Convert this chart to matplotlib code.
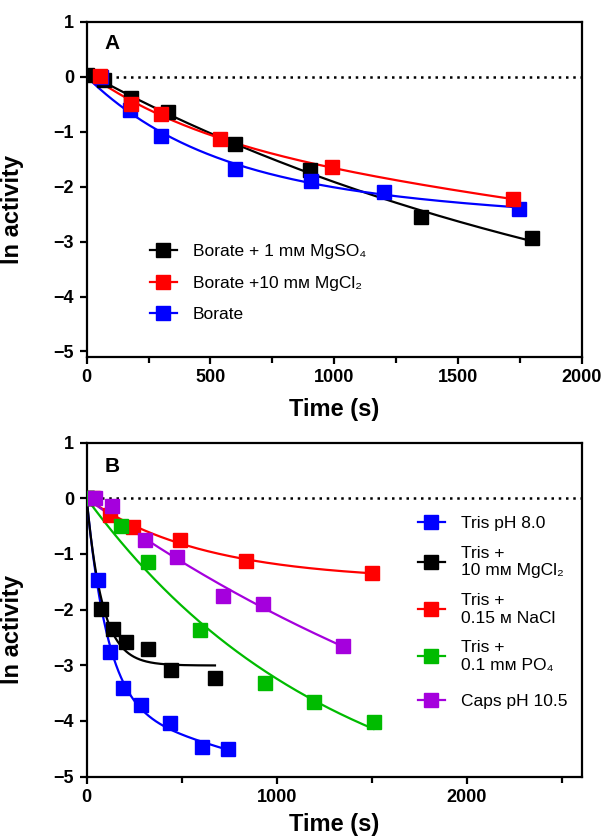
import numpy as np
import matplotlib
matplotlib.use('Agg')
import matplotlib.pyplot as plt
from matplotlib.ticker import MultipleLocator
from matplotlib.lines import Line2D

plt.rcParams['font.family'] = ['Liberation Sans', 'DejaVu Sans']

# ---------------- Data ----------------
# Panel A
a_black_t = [0, 70, 180, 330, 600, 900, 1350, 1800]
a_black_y = [0.03, -0.06, -0.38, -0.64, -1.22, -1.70, -2.55, -2.94]
a_red_t = [55, 180, 300, 540, 990, 1720]
a_red_y = [0.02, -0.50, -0.68, -1.14, -1.64, -2.23]
a_blue_t = [60, 175, 300, 600, 905, 1200, 1745]
a_blue_y = [0.0, -0.61, -1.08, -1.67, -1.90, -2.10, -2.40]
a_labels = ['Borate + 1 m\u1d0d MgSO\u2084', 'Borate +10 m\u1d0d MgCl\u2082', 'Borate']
# fitted-curve starting values (black, red, blue)
a_fit_y0 = [0.07, 0.07, 0.0]

# Panel B
b_blue_t = [0, 60, 123, 193, 284, 438, 609, 745]
b_blue_y = [0.0, -1.47, -2.76, -3.41, -3.72, -4.03, -4.46, -4.51]
b_black_t = [0, 75, 140, 207, 324, 442, 675]
b_black_y = [0.0, -1.99, -2.35, -2.59, -2.71, -3.08, -3.22]
b_red_t = [35, 122, 245, 489, 839, 1500]
b_red_y = [0.0, -0.30, -0.52, -0.75, -1.13, -1.34]
b_green_t = [0, 179, 324, 596, 939, 1196, 1509]
b_green_y = [0.0, -0.49, -1.14, -2.36, -3.31, -3.66, -4.01]
b_purple_t = [45, 131, 307, 473, 719, 930, 1346]
b_purple_y = [0.0, -0.13, -0.75, -1.05, -1.75, -1.89, -2.65]
b_labels = ['Tris pH 8.0', 'Tris +\n10 m\u1d0d MgCl\u2082', 'Tris +\n0.15 \u1d0d NaCl',
            'Tris +\n0.1 m\u1d0d PO\u2084', 'Caps pH 10.5']

BLUE, RED, BLACK, GREEN, PURPLE = '#0000FF', '#FF0000', '#000000', '#00BB00', '#A500DD'


def fit_decay(t, y, y0, phases=2, kmax=0.05):
    """Least-squares exponential decay fit (1 or 2 phases, non-negative amplitudes)."""
    t = np.asarray(t, float)
    y = np.asarray(y, float)
    ks = np.logspace(-5, np.log10(kmax), 90)
    combos = [(k,) for k in ks]
    if phases == 2:
        combos += [(k1, k2) for i, k1 in enumerate(ks) for k2 in ks[i + 1:]]
    yy = y - y0
    best = (np.inf, None)
    for kk in combos:
        X = np.column_stack([-(1 - np.exp(-k * t)) for k in kk])
        coef, *_ = np.linalg.lstsq(X, yy, rcond=None)
        if np.any(coef < 0):
            continue
        sse = np.sum((X @ coef - yy) ** 2)
        if sse < best[0]:
            best = (sse, (kk, coef))
    kk, coef = best[1]

    def f(tt):
        tt = np.asarray(tt, float)
        return y0 + np.column_stack([-(1 - np.exp(-k * tt)) for k in kk]) @ coef
    return f


def draw_series(ax, t, y, color, y0=0.0, phases=2, kmax=0.05):
    f = fit_decay(t, y, y0, phases, kmax)
    tt = np.linspace(0, max(t), 400)
    ax.plot(tt, f(tt), color=color, lw=1.6, zorder=3)
    ax.plot(t, y, ls='none', marker='s', ms=9.5, color=color, mec=color, zorder=4)


def style_axes(ax, xmax, xmajor, xminor, ymin, labelpad):
    ax.set_xlim(0, xmax)
    ax.set_ylim(ymin, 1)
    ax.xaxis.set_major_locator(MultipleLocator(xmajor))
    ax.xaxis.set_minor_locator(MultipleLocator(xminor))
    for s in ax.spines.values():
        s.set_linewidth(1.6)
    ax.tick_params(which='major', direction='out', length=5, width=1.6, labelsize=13, pad=4)
    ax.tick_params(which='minor', direction='out', length=4, width=1.6)
    ax.set_yticks(range(-5, 2))
    ax.set_yticklabels(['\u22125', '\u22124', '\u22123', '\u22122', '\u22121', '0', '1'],
                       fontweight='bold')
    ax.axhline(0, color='black', lw=1.8, ls=(0, (1, 1.9)), zorder=2)
    ax.set_xlabel('Time (s)', fontsize=17, fontweight='bold', labelpad=labelpad)
    ax.set_ylabel('ln activity', fontsize=17, fontweight='bold')
    ax.yaxis.set_label_coords(-0.127, 0.44)


fig = plt.figure(figsize=(6.10, 8.38), dpi=100)
axA = fig.add_axes([0.142, 0.574, 0.812, 0.400])
axB = fig.add_axes([0.142, 0.0732, 0.812, 0.3986])

# Panel A
draw_series(axA, a_black_t, a_black_y, BLACK, y0=a_fit_y0[0], phases=1, kmax=0.02)
draw_series(axA, a_blue_t, a_blue_y, BLUE, y0=a_fit_y0[2], phases=2, kmax=0.02)
draw_series(axA, a_red_t, a_red_y, RED, y0=a_fit_y0[1], phases=2, kmax=0.02)
style_axes(axA, 2000, 500, 250, -5.1, 8)
axA.set_xticks([0, 500, 1000, 1500, 2000])
axA.set_xticklabels(['0', '500', '1000', '1500', '2000'], fontweight='bold')
axA.text(0.036, 0.935, 'A', transform=axA.transAxes, fontsize=15, fontweight='bold',
         ha='left', va='center')
hA = [Line2D([], [], color=c, lw=1.6, marker='s', ms=9.5) for c in (BLACK, RED, BLUE)]
axA.legend(hA, a_labels, loc='upper left', bbox_to_anchor=(0.128, 0.337), frameon=False,
           fontsize=12.5, handlelength=1.55, handletextpad=0.9, labelspacing=0.95,
           borderpad=0, borderaxespad=0)

# Panel B
draw_series(axB, b_blue_t, b_blue_y, BLUE, phases=2)
draw_series(axB, b_black_t, b_black_y, BLACK, phases=1)
draw_series(axB, b_red_t, b_red_y, RED, phases=2)
draw_series(axB, b_green_t, b_green_y, GREEN, phases=2)
draw_series(axB, b_purple_t, b_purple_y, PURPLE, phases=2)
style_axes(axB, 2605, 1000, 500, -5.0, 5)
axB.set_xticks([0, 1000, 2000])
axB.set_xticklabels(['0', '1000', '2000'], fontweight='bold')
axB.text(0.036, 0.93, 'B', transform=axB.transAxes, fontsize=15, fontweight='bold',
         ha='left', va='center')
hB = [Line2D([], [], color=c, lw=1.6, marker='s', ms=9.5) for c in (BLUE, BLACK, RED, GREEN, PURPLE)]
legB1 = axB.legend(hB[:4], b_labels[:4], loc='upper left', bbox_to_anchor=(0.669, 0.78),
                   frameon=False, fontsize=12.5, handlelength=1.55, handletextpad=0.9,
                   labelspacing=0.85, borderpad=0, borderaxespad=0)
axB.add_artist(legB1)
axB.legend(hB[4:], b_labels[4:], loc='center left', bbox_to_anchor=(0.669, 0.2246),
           frameon=False, fontsize=12.5, handlelength=1.55, handletextpad=0.9,
           borderpad=0, borderaxespad=0)

fig.savefig('out.png', dpi=100)
